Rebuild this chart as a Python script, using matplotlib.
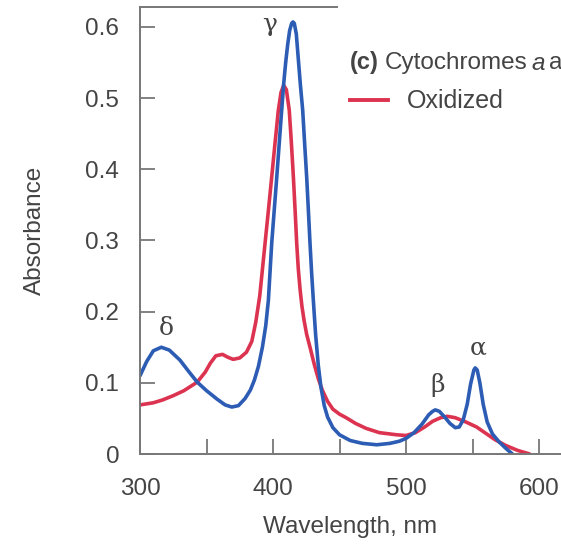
import matplotlib
matplotlib.use("Agg")
import matplotlib.pyplot as plt
from matplotlib.lines import Line2D

# reduced (blue) spectrum
red_wl = [300, 305, 310, 316, 322, 330, 337, 343, 350, 358, 364, 369, 374, 379,
          383, 386, 389, 392, 394.5, 396.5, 399, 401, 402.8, 404.8, 406.5, 408,
          409.5, 411, 412.5, 414, 415, 416, 417.5, 419, 420.5, 422.3, 423.8,
          425.3, 426.5, 427.8, 429, 430.3, 432, 434, 436, 438.5, 441, 445, 450,
          458, 467, 478, 488, 495, 500, 506, 512, 517, 520, 522, 525, 529, 533,
          537, 540, 543, 546, 548.5, 551, 552, 553.5, 555.5, 558, 561, 565, 570,
          575, 580]
red_abs = [0.110, 0.130, 0.145, 0.150, 0.146, 0.132, 0.115, 0.101, 0.089, 0.077,
           0.069, 0.066, 0.068, 0.078, 0.090, 0.104, 0.123, 0.150, 0.180, 0.216,
           0.296, 0.345, 0.389, 0.440, 0.483, 0.520, 0.550, 0.575, 0.595, 0.605,
           0.607, 0.605, 0.590, 0.555, 0.520, 0.483, 0.435, 0.389, 0.345, 0.296,
           0.255, 0.216, 0.168, 0.125, 0.094, 0.068, 0.052, 0.037, 0.027, 0.019,
           0.015, 0.013, 0.015, 0.018, 0.022, 0.030, 0.042, 0.055, 0.060, 0.062,
           0.060, 0.052, 0.043, 0.037, 0.038, 0.048, 0.070, 0.098, 0.118, 0.121,
           0.118, 0.100, 0.070, 0.045, 0.028, 0.017, 0.008, 0.000]

# oxidized (red) spectrum
ox_wl = [300, 310, 317, 325, 333, 343, 349, 353, 357, 362, 366, 370, 375, 380,
         384, 387, 390, 394, 396.5, 399, 401.5, 404, 406, 408, 410, 412.2, 413.8,
         415.3, 416.6, 417.8, 419, 420.3, 421.7, 423.3, 425.3, 427.8, 431, 434,
         437, 441, 445, 450, 455, 462, 470, 480, 493, 500, 507, 514, 520, 526,
         531, 537, 545, 553, 560, 567, 575, 584, 593]
ox_abs = [0.069, 0.072, 0.076, 0.082, 0.089, 0.101, 0.115, 0.128, 0.138, 0.140,
          0.136, 0.133, 0.135, 0.143, 0.158, 0.185, 0.222, 0.296, 0.342, 0.389,
          0.437, 0.483, 0.508, 0.518, 0.512, 0.483, 0.437, 0.389, 0.342, 0.296,
          0.260, 0.232, 0.208, 0.188, 0.168, 0.150, 0.126, 0.106, 0.090, 0.074,
          0.063, 0.056, 0.051, 0.043, 0.036, 0.030, 0.027, 0.026, 0.030, 0.038,
          0.046, 0.051, 0.053, 0.051, 0.045, 0.038, 0.029, 0.020, 0.012, 0.005,
          0.000]

band_names = ["\u03b3", "\u03b4", "\u03b2", "\u03b1"]
band_wl = [397.5, 319.5, 524, 554]
band_abs = [0.603, 0.177, 0.097, 0.149]

xticks = [300, 400, 500, 600]
yticks = [0, 0.1, 0.2, 0.3, 0.4, 0.5, 0.6]
ytick_labels = ["0", "0.1", "0.2", "0.3", "0.4", "0.5", "0.6"]

plt.rcParams['font.family'] = ['Liberation Sans', 'DejaVu Sans']

BLUE = "#2c5cb4"
RED = "#dc3450"
GREY = "#444444"
SPINE = "#777777"

fig = plt.figure(figsize=(5.61, 5.52), dpi=100)
ax = fig.add_axes([0.2496, 0.1775, 0.7504, 0.8098])

ax.plot(ox_wl, ox_abs, color=RED, lw=2.6, solid_capstyle='round',
        solid_joinstyle='round')
ax.plot(red_wl, red_abs, color=BLUE, lw=2.6, solid_capstyle='round',
        solid_joinstyle='round')

ax.set_xlim(300, 616.5)
ax.set_ylim(0, 0.628)

ax.set_xticks(xticks)
ax.set_xticks([350, 450, 550], minor=True)
ax.set_yticks(yticks)
ax.set_yticklabels(ytick_labels)

ax.tick_params(axis='both', which='both', direction='in', length=11, width=1.3,
               color=SPINE, labelcolor=GREY, labelsize=17.5)
ax.tick_params(axis='x', pad=17)
ax.tick_params(axis='y', pad=15)

for side in ['left', 'bottom', 'top']:
    ax.spines[side].set_color(SPINE)
    ax.spines[side].set_linewidth(1.4)
ax.spines['right'].set_visible(False)
ax.spines['top'].set_bounds(300, 448)

ax.set_xlabel("Wavelength, nm", fontsize=17.5, color=GREY, labelpad=12)
ax.set_ylabel("Absorbance", fontsize=17.5, color=GREY, labelpad=28)

for name, x, y in zip(band_names, band_wl, band_abs):
    ax.text(x, y, name, fontsize=18, color=GREY, ha='center', va='center',
            family=['DejaVu Serif'])

# title and legend at the upper right
fig.text(350 / 561, 1 - 63 / 552, "(c)", fontsize=17, fontweight='bold',
         color=GREY, va='center')
fig.text(385 / 561, 1 - 63 / 552, "Cytochromes", fontsize=17.5, color=GREY,
         va='center')
fig.text(531 / 561, 1 - 63 / 552, "a", fontsize=17.5, color=GREY,
         style='italic', va='center')
fig.text(549 / 561, 1 - 63 / 552, "a", fontsize=17.5, color=GREY,
         va='center')
fig.add_artist(Line2D([350 / 561, 388 / 561], [1 - 100 / 552, 1 - 100 / 552],
                      color=RED, lw=2.8, transform=fig.transFigure))
fig.text(407 / 561, 1 - 101 / 552, "Oxidized", fontsize=18, color=GREY,
         va='center')

fig.savefig("out.png", dpi=100)
